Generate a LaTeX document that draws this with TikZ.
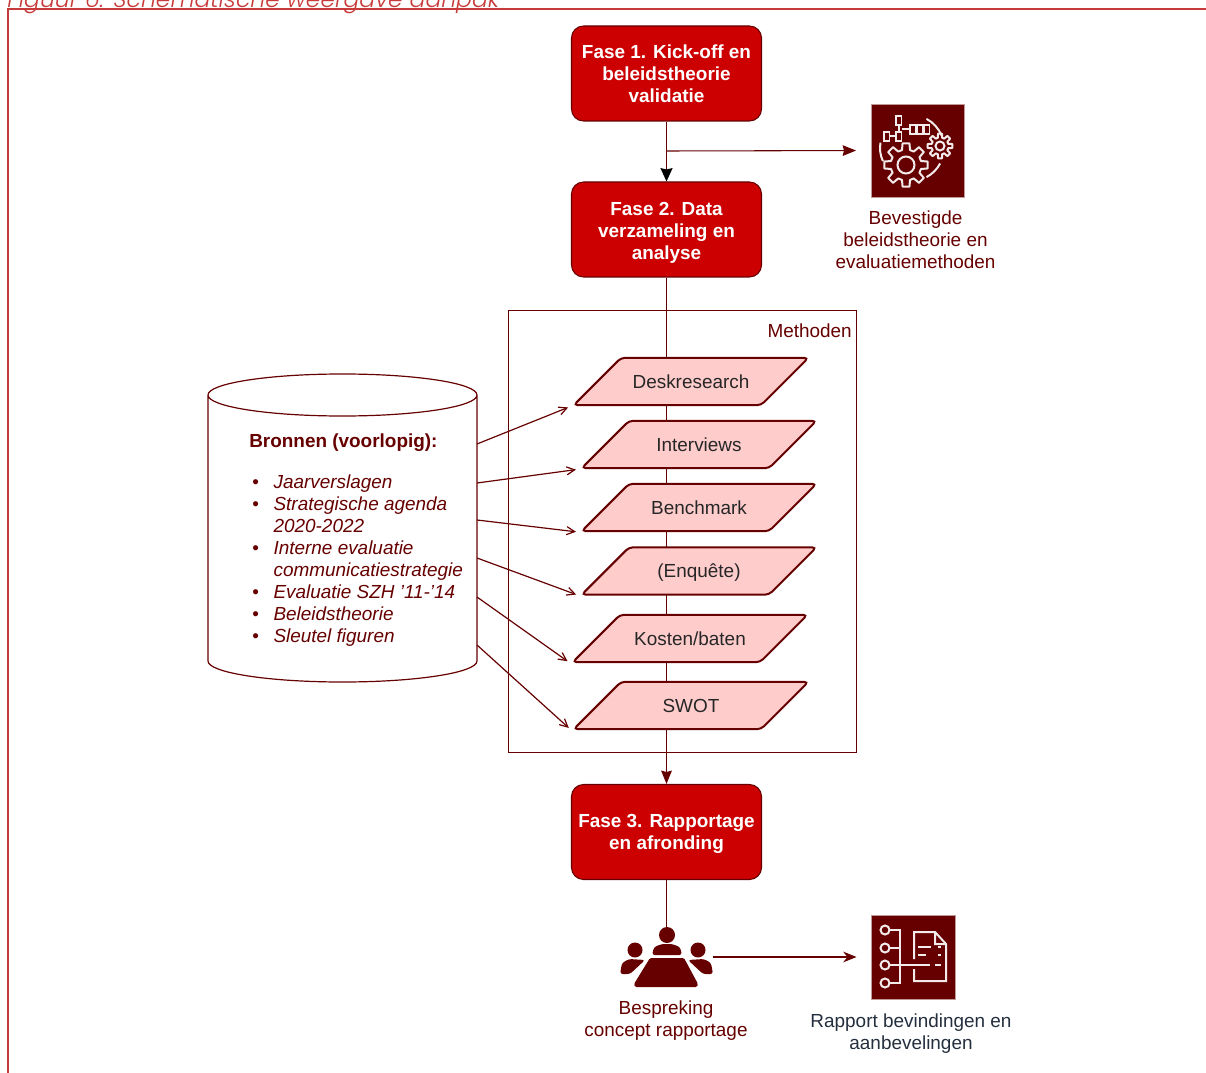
\documentclass[tikz,border=0pt]{standalone}
\usepackage{fontspec}
\setmainfont{Liberation Sans}
\newfontfamily\titlefont[ItalicFont={Poppins Light Italic}]{Poppins}
\usetikzlibrary{arrows.meta,shapes.geometric,backgrounds}
\definecolor{darkred}{HTML}{660000}
\definecolor{boxred}{HTML}{CC0000}
\definecolor{formpink}{HTML}{FFCCCC}
\definecolor{framered}{HTML}{C73A3A}
\definecolor{slate}{HTML}{232F3E}
\newcommand{\bodyfont}{\fontsize{14.2}{16.5}\selectfont}
\newcommand{\gearwheel}[5]{% x, y, inner, outer, hole
  \begin{scope}[shift={(#1,#2)}]
    \draw[iconline,line join=round] (-15:#3) \foreach \a in {0,45,...,315}
      { -- (\a-15:#3) -- (\a-9:#4) -- (\a+9:#4) -- (\a+15:#3) } -- cycle;
    \draw[iconline] (0,0) circle (#5);
  \end{scope}}
\tikzset{
  fase/.style={draw=darkred,fill=boxred,rounded corners=9pt,minimum width=142.5pt,
    minimum height=71.25pt,text=white,align=center,font=\bodyfont\bfseries,line width=0.8pt},
  methode/.style={trapezium,trapezium left angle=45,trapezium right angle=135,
    trapezium stretches body=true,draw=darkred,fill=formpink,rounded corners=3pt,line width=1.5pt,
    minimum width=176pt,inner xsep=0pt,inner ysep=9.85pt,text=black!85,font=\bodyfont,
    text height=12.8pt,text depth=3pt},
  label/.style={text=darkred,align=center,font=\bodyfont,inner sep=0pt},
  icon/.style={fill=darkred,draw=darkred!40,line width=0.5pt,inner sep=0pt},
  iconline/.style={draw=white!92!darkred,line width=1.5pt},
  flow/.style={draw=darkred,line width=0.9pt},
  source/.style={flow,-{Straight Barb[length=6pt,width=6pt]},shorten >=2.5pt},
}
\begin{document}
\begin{tikzpicture}[x=0.75pt,y=-0.75pt]
\useasboundingbox (0,0) rectangle (1206,1073);
\path (7,2) node[anchor=west,inner sep=0pt,text=framered,font=\fontsize{17.6}{20}\titlefont\itshape](title){Figuur 6. Schematische weergave aanpak};
\draw[framered,line width=1.1pt] (8,1073) -- (8,9) -- (1206,9);

\path (666.5,73.5) node[fase](fase1){Fase 1. Kick-off en\\beleidstheorie\\validatie}
      (666.5,229.5) node[fase](fase2){\mbox{}\\[-1.8pt]Fase 2. Data\\verzameling en\\analyse}
      (666.5,832) node[fase](fase3){\mbox{}\\[-3.3pt]Fase 3. Rapportage\\en afronding};

\path (682,531.5) node[draw=darkred,line width=0.7pt,minimum width=261pt,minimum height=331.75pt](methoden){}
      (852,331) node[label,anchor=east](methodenlabel){Methoden};

\path (691,381.5) node[methode](desk){Deskresearch}
      (699,444.5) node[methode](interviews){Interviews}
      (699,507.5) node[methode](benchmark){Benchmark}
      (699,571) node[methode](enquete){(Enquête)}
      (690,638.5) node[methode](kosten){Kosten/baten}
      (691,705.5) node[methode](swot){SWOT};

% bronnen
\draw[flow] (208,395) arc[start angle=180,end angle=-180,x radius=134.5,y radius=21]
  -- (208,661) arc[start angle=180,end angle=0,x radius=134.5,y radius=21] -- (477,395);
\path (249,443) node[label,anchor=west,font=\bodyfont\bfseries](bronnentitel){Bronnen (voorlopig):};
\path (252,561) node[label,anchor=west,align=left,font=\bodyfont](bronnenlijst){%
  \begin{tabular}{@{}l@{\hspace{11pt}}l@{}}
  \textbullet & \textit{Jaarverslagen}\\
  \textbullet & \textit{Strategische agenda}\\
  & \textit{2020-2022}\\
  \textbullet & \textit{Interne evaluatie}\\
  & \textit{communicatiestrategie}\\
  \textbullet & \textit{Evaluatie SZH '11-'14}\\
  \textbullet & \textit{Beleidstheorie}\\
  \textbullet & \textit{Sleutel figuren}
  \end{tabular}};

\coordinate (s1) at (477,444);
\coordinate (s2) at (477,483);
\coordinate (s3) at (477,520);
\coordinate (s4) at (477,558);
\coordinate (s5) at (477,597);
\coordinate (s6) at (477,645);
\draw[source] (s1) -- (desk.bottom left corner);
\draw[source] (s2) -- (interviews.bottom left corner);
\draw[source] (s3) -- (benchmark.bottom left corner);
\draw[source] (s4) -- (enquete.bottom left corner);
\draw[source] (s5) -- (kosten.bottom left corner);
\draw[source] (s6) -- (swot.bottom left corner);

% iconen
\path (917.5,150.5) node[icon,minimum size=69.75pt](bevestigd){}
      (913.5,957) node[icon,minimum size=63pt](rapport){}
      (666.5,957) node[minimum width=69.75pt,minimum height=45pt,inner sep=0pt](bespreking){};

\gearwheel{906}{165}{15.5}{22}{8.5}
\gearwheel{940}{146}{8.5}{12.5}{4.5}
\draw[iconline] (911,148) ++(-62:33) arc[start angle=-62,end angle=-22,radius=33];
\draw[iconline] (911,148) ++(28:33) arc[start angle=28,end angle=62,radius=33];
\draw[iconline] (911,148) ++(155:31) arc[start angle=155,end angle=190,radius=31];
\foreach \x/\y in {884/132,896/132,896/116,910/125,917/125,924/125}
  \draw[iconline,line width=1.2pt] (\x,\y) rectangle ++(5.5,9);
\draw[iconline,line width=1.2pt] (889.5,136) -- (896,136) (899,125) -- (899,132) (901.5,129) -- (910,129);

\foreach \y in {930,948,965,983}
  \draw[iconline] (885,\y) circle (4.5);
\draw[iconline] (889.5,930) -- (900,930) -- (900,983) -- (889.5,983) (889.5,948) -- (900,948) (889.5,965) -- (930,965);
\draw[iconline] (914,959) -- (914,932) -- (935,932) -- (946,944) -- (946,981) -- (914,981) -- (914,969) (935,932) -- (935,944) -- (946,944);
\draw[iconline] (918,947) -- (931,947) (938,947) -- (941,947) (918,955) -- (926,955) (938,955) -- (941,955) (935,965) -- (941,965);

\fill[darkred] (667,935) circle (8) (635,950) circle (7.5) (698,950) circle (7.5);
\fill[darkred,rounded corners=2pt] (652,955) -- (654,947) -- (662,944) -- (672,944) -- (680,947) -- (682,955) -- cycle;
\fill[darkred,rounded corners=1pt] (650,958) -- (684,958) -- (698,984) -- (697,987) -- (635,987) -- (634,984) -- cycle;
\fill[darkred,rounded corners=2pt] (620,974) -- (622,963) -- (629,959) -- (645,960) -- (630,974) -- cycle;
\fill[darkred,rounded corners=2pt] (713,974) -- (711,963) -- (704,959) -- (688,960) -- (703,974) -- cycle;

\path (915.5,240) node[label](bevestigdlabel){Bevestigde\\beleidstheorie en\\evaluatiemethoden}
      (666,1021) node[label](besprekinglabel){Bespreking\\concept rapportage}
      (911,1034) node[label,text=slate](rapportlabel){Rapport bevindingen en\\aanbevelingen};

% verbindingen
\coordinate (branch) at (666.5,151);
\begin{scope}[on background layer]
\draw[flow,-{Stealth[length=10pt,width=8pt,inset=1pt]}] (fase2.south) -- (fase3.north);
\end{scope}
\draw[flow,-{Stealth[length=10pt,width=9pt,inset=1pt,fill=black,black]}] (fase1.south) -- (fase2.north);
\draw[flow,line width=0.8pt,-{Stealth[length=10pt,width=8pt,inset=1pt]},shorten >=11pt] (branch) -- (bevestigd.west);
\draw[flow] (fase3.south) -- (bespreking.north);
\draw[flow,line width=0.8pt,-{Stealth[length=10pt,width=8pt]},shorten >=11pt] (bespreking.east) -- (rapport.west);
\end{tikzpicture}
\end{document}
